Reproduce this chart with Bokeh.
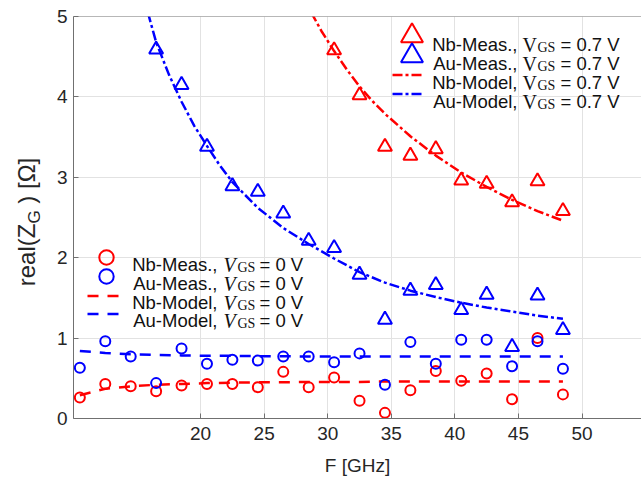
from bokeh.plotting import figure
from bokeh.models import FixedTicker, Legend, LegendItem, Label, Span, Range1d, Div
from bokeh.layouts import row
from bokeh.core.properties import value
from bokeh.embed import file_html
from bokeh.resources import INLINE

# ---------------- data ----------------
freq_meas = [10.5, 12.5, 14.5, 16.5, 18.5, 20.5, 22.5, 24.5, 26.5, 28.5,
             30.5, 32.5, 34.5, 36.5, 38.5, 40.5, 42.5, 44.5, 46.5, 48.5]
nb_meas_0v = [0.26, 0.43, 0.40, 0.34, 0.41, 0.43, 0.43, 0.39, 0.58, 0.39,
              0.51, 0.22, 0.07, 0.35, 0.59, 0.47, 0.56, 0.24, 1.00, 0.30]
au_meas_0v = [0.63, 0.96, 0.77, 0.44, 0.87, 0.68, 0.73, 0.72, 0.77, 0.77,
              0.70, 0.81, 0.42, 0.95, 0.68, 0.98, 0.98, 0.65, 0.96, 0.62]
nb_model_0v = [0.29, 0.37, 0.40, 0.42, 0.43, 0.44, 0.445, 0.45, 0.45, 0.455,
               0.455, 0.455, 0.46, 0.46, 0.46, 0.46, 0.46, 0.46, 0.46, 0.46]
au_model_0v = [0.84, 0.815, 0.80, 0.79, 0.785, 0.78, 0.78, 0.775, 0.775, 0.77,
               0.77, 0.77, 0.77, 0.77, 0.77, 0.77, 0.77, 0.77, 0.77, 0.77]

freq_au_07 = [16.5, 18.5, 20.5, 22.5, 24.5, 26.5, 28.5, 30.5, 32.5,
              34.5, 36.5, 38.5, 40.5, 42.5, 44.5, 46.5, 48.5]
au_meas_07 = [4.59, 4.15, 3.38, 2.89, 2.82, 2.55, 2.21, 2.12, 1.79,
              1.23, 1.59, 1.66, 1.35, 1.54, 0.89, 1.53, 1.10]
freq_nb_07 = [30.5, 32.5, 34.5, 36.5, 38.5, 40.5, 42.5, 44.5, 46.5, 48.5]
nb_meas_07 = [4.58, 4.02, 3.38, 3.27, 3.35, 2.96, 2.92, 2.69, 2.95, 2.58]

freq_au_model_07 = [15.85, 16.5, 17.5, 18.5, 19.5, 20.5, 21.5, 22.5, 24.5, 26.5, 28.5,
                    30.5, 32.5, 34.5, 36.5, 38.5, 40.5, 42.5, 44.5, 46.5, 48.5]
au_model_07 = [5.05, 4.68, 4.28, 3.94, 3.64, 3.39, 3.15, 2.94, 2.62, 2.37, 2.17,
               1.99, 1.82, 1.69, 1.59, 1.51, 1.44, 1.38, 1.33, 1.28, 1.24]
freq_nb_model_07 = [28.7, 29.5, 30.5, 31.5, 32.5, 33.5, 34.5, 36.5, 38.5,
                    40.5, 42.5, 44.5, 46.5, 48.5]
nb_model_07 = [5.05, 4.82, 4.57, 4.34, 4.13, 3.95, 3.79, 3.51, 3.27,
               3.06, 2.88, 2.72, 2.58, 2.46]

x_ticks = [20, 25, 30, 35, 40, 45, 50]
y_ticks = [0, 1, 2, 3, 4, 5]

legend_07_names = ["Nb-Meas.,", "Au-Meas.,", "Nb-Model,", "Au-Model,"]
legend_0_names = ["Nb-Meas.,", "Au-Meas.,", "Nb-Model,", "Au-Model,"]
legend_07_value = "= 0.7 V"
legend_0_value = "= 0 V"

# ---------------- layout constants (page pixels) ----------------
YLAB_W = 40
X0, X1 = 10, 54.68
FRAME_L, FRAME_R, FRAME_T, FRAME_B = 73, 641, 16, 418
SX = (FRAME_R - FRAME_L) / (X1 - X0)
SY = (FRAME_B - FRAME_T) / 5.0


def dx(px):
    return X0 + (px - FRAME_L) / SX


def dy(py):
    return (FRAME_B - py) / SY


RED = "#ff0000"
BLUE = "#0000ff"
AXIS = "#707070"
TXT = "#262626"
LTXT = "#111111"
SANS = "Liberation Sans"
SERIF = "Liberation Serif"

p = figure(width=641 - YLAB_W, height=481, x_range=Range1d(X0, X1), y_range=Range1d(0, 5),
           min_border_left=FRAME_L - YLAB_W, min_border_right=0, min_border_top=FRAME_T,
           min_border_bottom=481 - FRAME_B, margin=0,
           output_backend="svg", toolbar_location=None)
p.outline_line_color = None
p.background_fill_color = "white"
p.border_fill_color = "white"

# axes
p.xaxis.ticker = FixedTicker(ticks=x_ticks)
p.yaxis.ticker = FixedTicker(ticks=y_ticks)
p.xgrid.ticker = FixedTicker(ticks=x_ticks)
p.ygrid.ticker = FixedTicker(ticks=y_ticks)
for ax in (p.xaxis, p.yaxis):
    ax.axis_line_color = AXIS
    ax.major_tick_line_color = AXIS
    ax.major_tick_in = 5
    ax.major_tick_out = 0
    ax.minor_tick_line_color = None
    ax.major_label_text_font = SANS
    ax.major_label_text_font_size = "19px"
    ax.major_label_text_color = TXT
p.xaxis.major_label_standoff = 8
p.yaxis.major_label_standoff = 6
p.xaxis.axis_label = "F [GHz]"
p.xaxis.axis_label_text_font = SANS
p.xaxis.axis_label_text_font_size = "19px"
p.xaxis.axis_label_text_font_style = "normal"
p.xaxis.axis_label_text_color = TXT
p.xaxis.axis_label_standoff = 12
p.grid.grid_line_color = "#e2e2e2"
p.grid.grid_line_width = 1

p.add_layout(Span(location=5, dimension="width", line_color=AXIS, line_width=1))

# model curves
r_nb_model_07 = p.line(freq_nb_model_07, nb_model_07, line_color=RED, line_width=2.5,
                       line_dash="10 3 3 3")
r_au_model_07 = p.line(freq_au_model_07, au_model_07, line_color=BLUE, line_width=2.5,
                       line_dash="10 3 3 3")
r_nb_model_0 = p.line(freq_meas, nb_model_0v, line_color=RED, line_width=2.5, line_dash="11 9")
r_au_model_0 = p.line(freq_meas, au_model_0v, line_color=BLUE, line_width=2.5, line_dash="11 9")

# measurements
r_nb_meas_0 = p.scatter(freq_meas, nb_meas_0v, marker="circle", size=10, fill_color=None,
                        line_color=RED, line_width=2)
r_au_meas_0 = p.scatter(freq_meas, au_meas_0v, marker="circle", size=10, fill_color=None,
                        line_color=BLUE, line_width=2)
r_nb_meas_07 = p.scatter(freq_nb_07, nb_meas_07, marker="triangle", size=14, fill_color=None,
                         line_color=RED, line_width=2)
r_au_meas_07 = p.scatter(freq_au_07, au_meas_07, marker="triangle", size=14, fill_color=None,
                         line_color=BLUE, line_width=2)


def add_symbol(renderer, cx, cy, gw, gh):
    vx = cx - gw / 2 - FRAME_L
    vy = FRAME_B - (cy + gh / 2)
    lg = Legend(items=[LegendItem(label=value(""), renderers=[renderer])],
                location=(vx, vy), glyph_width=int(gw), glyph_height=int(gh),
                padding=0, spacing=0, margin=0, label_standoff=0, label_width=0,
                label_height=int(gh), label_text_font_size="1px",
                border_line_color=None, background_fill_alpha=0)
    p.add_layout(lg)


# legend symbols (0.7 V)
add_symbol(r_nb_meas_07, 411.5, 35, 55, 55)
add_symbol(r_au_meas_07, 411.5, 55, 55, 55)
add_symbol(r_nb_model_07, 407.5, 74, 31, 19)
add_symbol(r_au_model_07, 407.5, 93, 31, 19)
# legend symbols (0 V)
add_symbol(r_nb_meas_0, 106, 257, 36, 36)
add_symbol(r_au_meas_0, 106, 276, 36, 36)
add_symbol(r_nb_model_0, 104.5, 295, 35, 19)
add_symbol(r_au_model_0, 104.5, 313, 35, 19)


def legend_row(name, val, base, x_name_end, x_v, x_gs, x_val, italic_v):
    p.add_layout(Label(x=dx(x_name_end), y=dy(base), text=name, text_font=SANS,
                       text_font_size="18.5px", text_color=LTXT, text_align="right",
                       text_baseline="alphabetic"))
    p.add_layout(Label(x=dx(x_v), y=dy(base), text="V", text_font=SERIF,
                       text_font_size="20px", text_color=LTXT, text_align="left",
                       text_baseline="alphabetic",
                       text_font_style="italic" if italic_v else "normal"))
    p.add_layout(Label(x=dx(x_gs), y=dy(base + 3), text="GS", text_font=SERIF,
                       text_font_size="14px", text_color=LTXT, text_align="left",
                       text_baseline="alphabetic"))
    p.add_layout(Label(x=dx(x_val), y=dy(base), text=val, text_font=SANS,
                       text_font_size="18.5px", text_color=LTXT, text_align="left",
                       text_baseline="alphabetic"))


for name, base in zip(legend_07_names, [44, 63, 82, 101]):
    legend_row(name, legend_07_value, base, 517, 522, 537, 560, False)
for name, base in zip(legend_0_names, [264, 283, 302, 320]):
    legend_row(name, legend_0_value, base, 217, 223, 237, 259, True)

# y axis label real(Z_G ) [Ω] as real HTML text with a subscript, rotated
ylab_html = (
    '<div style="position:relative;width:%dpx;height:481px;margin:0;padding:0;">'
    '<div style="position:absolute;left:27px;top:222px;'
    'transform:translate(-50%%,-50%%) rotate(-90deg);white-space:nowrap;'
    "font-family:'Liberation Sans';font-size:24px;line-height:1;color:%s;\">"
    'real(Z<sub style="font-size:17px;line-height:0;vertical-align:-5px;">G</sub> ) [&Omega;]'
    '</div></div>' % (YLAB_W, TXT)
)
ylab = Div(text=ylab_html, width=YLAB_W, height=481, margin=0)

layout = row(ylab, p, spacing=0, margin=0)
open("out.html", "w").write(file_html(layout, INLINE))
